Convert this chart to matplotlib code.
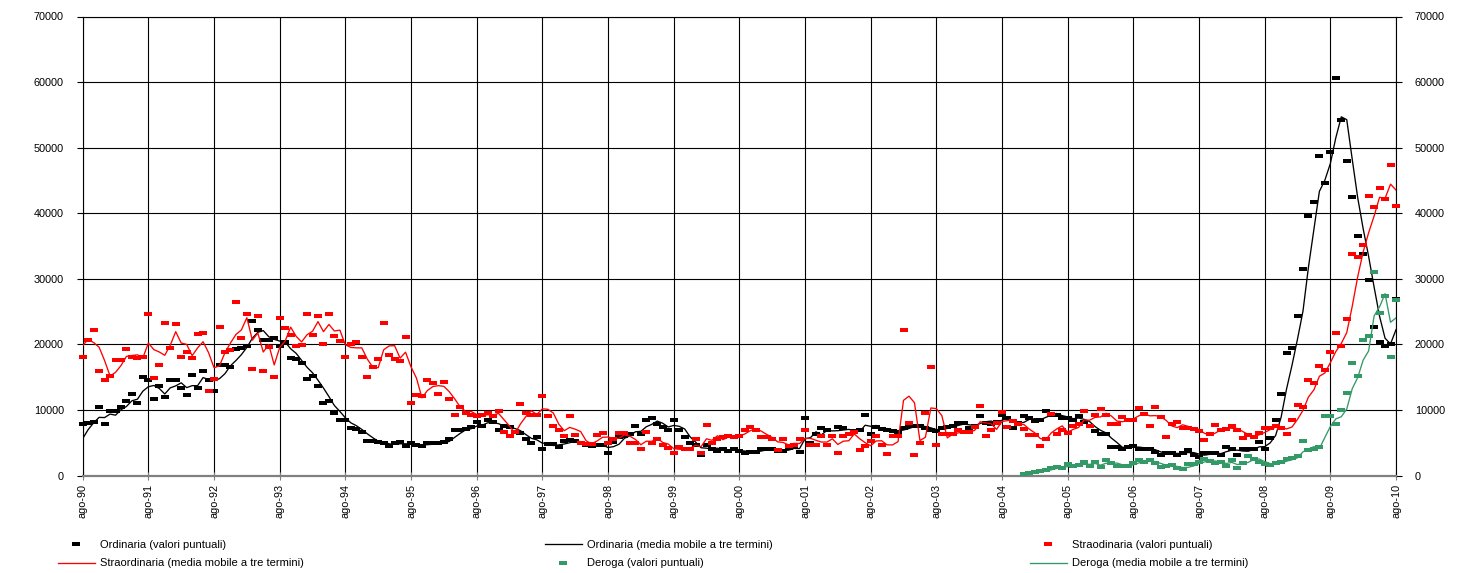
import numpy as np
import pandas as pd
import matplotlib
matplotlib.use("Agg")
import matplotlib.pyplot as plt
from matplotlib.path import Path
from matplotlib.lines import Line2D

plt.rcParams['font.family'] = ['Liberation Sans', 'DejaVu Sans']

# ---------------- data (values in thousands) ----------------
tick_labels = ['ago-90', 'ago-91', 'ago-92', 'ago-93', 'ago-94', 'ago-95', 'ago-96',
               'ago-97', 'ago-98', 'ago-99', 'ago-00', 'ago-01', 'ago-02', 'ago-03',
               'ago-04', 'ago-05', 'ago-06', 'ago-07', 'ago-08', 'ago-09', 'ago-10']

# monthly values, ago-90 .. ago-10 (241 months)
ordinaria_k = [
    7.9, 8.0, 8.2, 10.4, 7.9, 9.8, 9.9, 10.4, 11.3, 12.5, 11.1, 15.0,
    14.5, 11.7, 13.6, 12.0, 14.5, 14.5, 13.4, 12.3, 15.4, 13.4, 16.0, 14.5,
    12.9, 16.9, 16.8, 16.5, 19.3, 19.5, 19.8, 23.5, 22.2, 20.6, 20.7, 21.0,
    19.8, 20.3, 17.9, 17.7, 17.1, 14.7, 15.2, 13.7, 11.1, 11.3, 9.6, 8.4,
    8.4, 7.3, 7.1, 6.7, 5.3, 5.3, 5.1, 4.9, 4.5, 4.9, 5.1, 4.5,
    4.9, 4.7, 4.5, 4.9, 4.9, 5.0, 5.1, 5.5, 6.9, 6.9, 7.1, 7.4,
    8.1, 7.5, 8.5, 8.2, 7.0, 7.5, 7.4, 6.6, 6.5, 5.6, 4.9, 5.8,
    4.1, 4.8, 4.8, 4.4, 5.2, 5.4, 5.2, 4.9, 4.7, 4.5, 4.7, 4.7,
    3.4, 5.1, 5.8, 6.1, 6.3, 7.6, 6.3, 8.4, 8.7, 7.8, 7.4, 7.0,
    8.5, 7.0, 5.8, 4.9, 4.6, 3.2, 4.7, 4.1, 3.7, 4.0, 3.7, 4.0,
    3.7, 3.5, 3.6, 3.6, 4.0, 4.1, 4.0, 3.7, 3.7, 4.2, 4.5, 3.6,
    8.7, 5.0, 6.3, 7.3, 7.0, 6.1, 7.4, 7.3, 6.4, 6.8, 7.0, 9.2,
    6.3, 7.4, 7.1, 7.0, 6.8, 6.7, 7.3, 7.5, 7.6, 7.6, 7.2, 7.0,
    6.8, 7.3, 7.4, 7.5, 8.0, 8.0, 7.2, 7.6, 9.0, 8.0, 7.9, 8.1,
    9.3, 8.7, 7.3, 8.0, 9.0, 8.7, 8.3, 8.5, 9.8, 9.3, 9.3, 8.8,
    8.7, 8.5, 9.1, 8.1, 7.5, 6.8, 6.4, 6.3, 4.4, 4.4, 4.1, 4.4,
    4.5, 4.1, 4.1, 4.1, 3.6, 3.1, 3.5, 3.5, 3.1, 3.5, 3.9, 3.1,
    2.8, 3.4, 3.5, 3.4, 3.1, 4.4, 4.1, 3.1, 4.0, 4.0, 4.0, 5.1,
    4.1, 5.7, 8.5, 12.4, 18.7, 19.4, 24.3, 31.5, 39.5, 41.7, 48.8, 44.6,
    49.3, 60.6, 54.2, 48.0, 42.5, 36.6, 33.8, 29.8, 22.6, 20.4, 19.8, 20.0,
    26.9]

straordinaria_k = [
    18.0, 20.6, 22.2, 15.9, 14.5, 15.1, 17.6, 17.6, 19.3, 18.0, 17.9, 18.0,
    24.7, 14.9, 16.9, 23.2, 19.5, 23.1, 18.0, 18.9, 17.9, 21.6, 21.7, 12.9,
    14.7, 22.6, 18.9, 19.1, 26.5, 21.0, 24.7, 16.2, 24.3, 16.0, 19.6, 15.0,
    24.0, 22.5, 21.4, 19.8, 19.9, 24.7, 21.4, 24.3, 20.1, 24.7, 21.3, 20.5,
    18.0, 20.1, 20.3, 18.0, 15.0, 16.6, 17.7, 23.2, 18.4, 17.8, 17.5, 21.1,
    11.1, 12.3, 12.1, 14.5, 14.1, 12.5, 14.2, 11.6, 9.2, 10.5, 9.6, 9.2,
    9.1, 9.2, 9.5, 9.0, 9.9, 6.6, 6.1, 6.6, 10.9, 9.5, 9.2, 9.2,
    12.1, 9.0, 7.5, 7.0, 6.0, 9.0, 6.2, 4.9, 4.8, 4.8, 6.2, 6.5,
    4.9, 5.6, 6.5, 6.5, 5.0, 5.0, 4.1, 6.6, 4.9, 5.6, 4.6, 4.2,
    3.5, 4.3, 4.1, 4.1, 5.6, 3.5, 7.7, 4.9, 5.6, 5.9, 6.1, 5.9,
    6.1, 7.0, 7.4, 7.0, 5.9, 5.9, 5.6, 3.9, 5.6, 4.5, 4.6, 5.5,
    6.9, 4.6, 4.6, 6.1, 4.6, 6.1, 3.5, 6.1, 6.3, 6.6, 3.9, 4.5,
    5.2, 6.1, 4.6, 3.3, 6.1, 6.1, 22.2, 8.0, 3.1, 4.9, 9.5, 16.5,
    4.6, 6.3, 6.3, 6.3, 6.9, 6.6, 6.6, 7.4, 10.6, 6.1, 7.0, 8.0,
    9.7, 7.4, 8.3, 7.9, 7.1, 6.2, 6.2, 4.5, 5.6, 9.4, 6.3, 7.0,
    6.5, 7.6, 7.9, 9.9, 7.5, 9.2, 10.1, 9.2, 7.9, 7.8, 8.9, 8.5,
    8.5, 10.3, 9.4, 7.6, 10.4, 8.9, 5.9, 7.9, 8.1, 7.2, 7.2, 7.1,
    6.8, 5.4, 6.3, 7.7, 7.0, 7.1, 7.5, 6.9, 5.7, 6.2, 5.9, 6.5,
    7.3, 7.2, 7.6, 7.3, 6.4, 8.5, 10.8, 10.5, 14.6, 14.1, 16.7, 16.1,
    18.8, 21.8, 19.8, 23.8, 33.8, 33.3, 35.2, 42.6, 40.9, 43.8, 42.1, 47.4,
    41.1]

# Deroga starts in dic-04 (month index 172)
deroga_start = 172
deroga_k = [
    0.3, 0.4, 0.6, 0.7, 0.8, 1.1, 1.3, 1.1, 1.7, 1.4, 1.6, 2.1,
    1.4, 2.0, 1.3, 2.3, 1.9, 1.5, 1.5, 1.5, 1.85, 2.4, 2.1, 2.3,
    1.9, 1.35, 1.45, 1.6, 1.1, 0.95, 1.7, 1.7, 2.0, 2.5, 2.2, 1.9,
    2.1, 1.5, 2.4, 1.1, 1.9, 3.0, 2.45, 2.1, 1.8, 1.55, 1.95, 2.1,
    2.5, 2.6, 3.0, 5.2, 3.9, 4.1, 4.3, 9.0, 9.1, 7.8, 10.0, 12.6,
    17.1, 15.1, 20.6, 21.3, 31.1, 24.8, 27.3, 18.0, 26.8]

# two months before ago-90 (giu-90, lug-90), used only by the moving averages
ordinaria_prior_k = [3.9, 5.1]
straordinaria_prior_k = [17.6, 23.8]

# ---------------- derived series ----------------
SCALE = 1000.0
ord_v = np.array(ordinaria_k) * SCALE
str_v = np.array(straordinaria_k) * SCALE
der_v = np.array(deroga_k) * SCALE

def mm3(values, prior=()):
    s = pd.Series(list(prior) + list(values), dtype=float)
    return s.rolling(3, min_periods=1).mean().to_numpy()[len(prior):]

ord_ma = mm3(ord_v, np.array(ordinaria_prior_k) * SCALE)
str_ma = mm3(str_v, np.array(straordinaria_prior_k) * SCALE)
der_ma = mm3(der_v)

x_all = np.arange(len(ord_v))
x_der = np.arange(deroga_start, deroga_start + len(der_v))

# ---------------- figure ----------------
W, H = 1468, 573
fig = plt.figure(figsize=(W / 100, H / 100), dpi=100)
ax = fig.add_axes([82.7 / W, 1 - 475.5 / H, (1396 - 82.7) / W, (475.5 - 16.5) / H])

rect = Path([(-1, -0.52), (1, -0.52), (1, 0.52), (-1, 0.52), (-1, -0.52)],
            [Path.MOVETO, Path.LINETO, Path.LINETO, Path.LINETO, Path.CLOSEPOLY])
MS = 5.8
GREEN = '#339966'

ax.plot(x_all, ord_v, ls='none', marker=rect, ms=MS, mew=0, color='black',
        clip_on=False, zorder=3)
ax.plot(x_all, ord_ma, color='black', lw=0.95, zorder=3)
ax.plot(x_all, str_v, ls='none', marker=rect, ms=MS, mew=0, color='#ff0000',
        clip_on=False, zorder=3)
ax.plot(x_all, str_ma, color='#ff0000', lw=0.95, zorder=3)
ax.plot(x_der, der_v, ls='none', marker=rect, ms=MS, mew=0, color=GREEN,
        clip_on=False, zorder=3)
ax.plot(x_der, der_ma, color=GREEN, lw=0.95, zorder=3)

ax.set_xlim(0, len(ord_v) - 1)
ax.set_ylim(0, 70000)
ax.set_xticks(np.arange(0, len(ord_v), 12))
ax.set_xticklabels(tick_labels, rotation=90, fontsize=7.8)
yt = np.arange(0, 70001, 10000)
ax.set_yticks(yt)
ax.set_yticklabels([f"{int(v)}" for v in yt], fontsize=7.8)

ax.grid(True, color='black', lw=0.8, zorder=1)
ax.set_axisbelow(True)

for side in ['top', 'left', 'right']:
    ax.spines[side].set_color('black')
    ax.spines[side].set_linewidth(0.8)
ax.spines['bottom'].set_color('#808080')
ax.spines['bottom'].set_linewidth(1.6)

ax.tick_params(axis='x', direction='inout', length=6, width=0.8, color='#808080', pad=3)
ax.tick_params(axis='y', direction='out', length=4.5, width=0.8, color='black',
               right=True, labelright=True, pad=9)
for t in ax.yaxis.get_major_ticks():
    t.tick2line.set_color('#808080')

# ---------------- legend (three columns) ----------------
h_ord_p = Line2D([], [], ls='none', marker=rect, ms=MS, mew=0, color='black')
h_ord_l = Line2D([], [], color='black', lw=0.95)
h_str_p = Line2D([], [], ls='none', marker=rect, ms=MS, mew=0, color='#ff0000')
h_str_l = Line2D([], [], color='#ff0000', lw=0.95)
h_der_p = Line2D([], [], ls='none', marker=rect, ms=MS, mew=0, color=GREEN)
h_der_l = Line2D([], [], color=GREEN, lw=0.95)

cols = [
    (58, [h_ord_p, h_str_l], ["Ordinaria (valori puntuali)",
                              "Straordinaria (media mobile a tre termini)"]),
    (545, [h_ord_l, h_der_p], ["Ordinaria (media mobile a tre termini)",
                               "Deroga (valori puntuali)"]),
    (1030, [h_str_p, h_der_l], ["Straodinaria (valori puntuali)",
                                "Deroga (media mobile a tre termini)"]),
]
for xpx, hs, labs in cols:
    fig.legend(hs, labs, loc='center left', bbox_to_anchor=(xpx / W, 1 - 554 / H),
               frameon=False, fontsize=8, handlelength=3.3, handletextpad=0.45,
               labelspacing=0.8, borderpad=0, borderaxespad=0, numpoints=1)

fig.savefig('out.png', dpi=100)
